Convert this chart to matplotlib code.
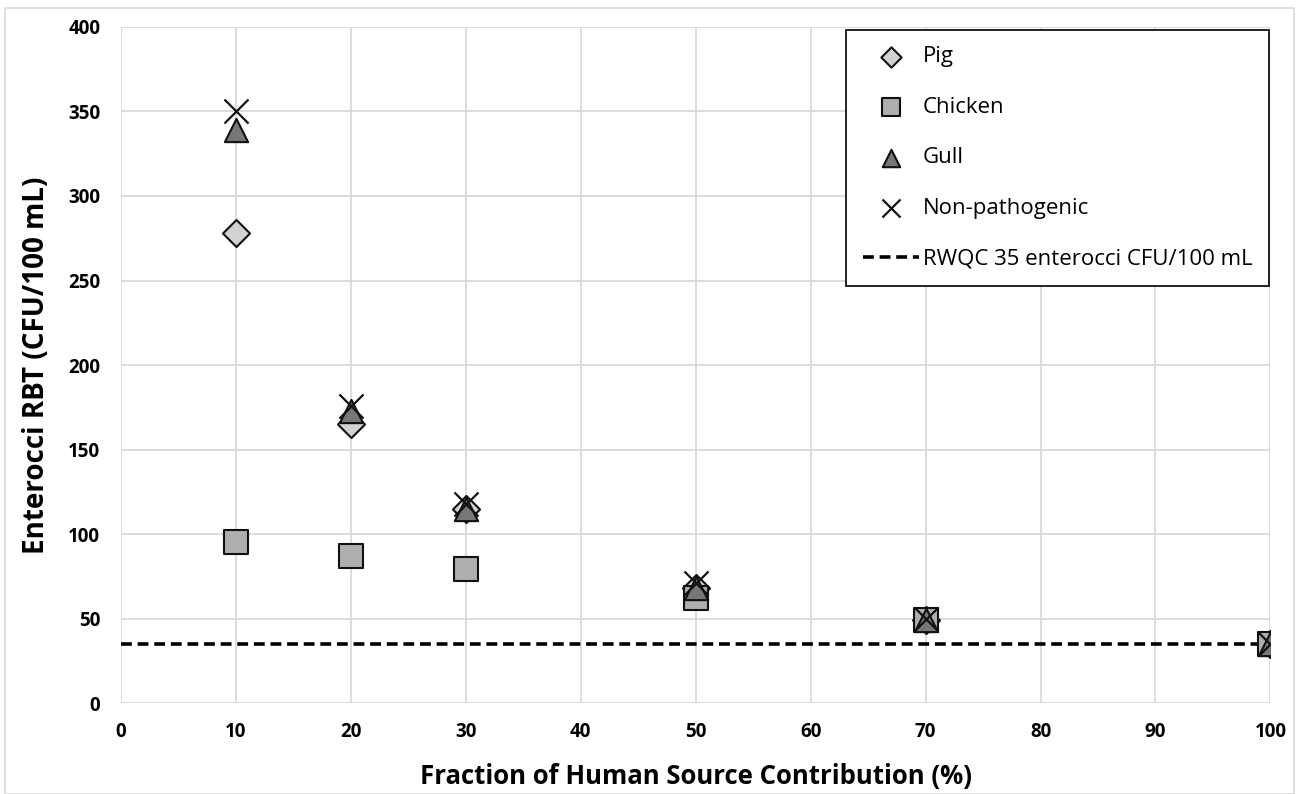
import matplotlib
matplotlib.use("Agg")
import matplotlib.pyplot as plt
from matplotlib.patches import Rectangle

plt.rcParams['font.family'] = ['Open Sans', 'DejaVu Sans']

fraction = [10, 20, 30, 50, 70, 100]
pig = [278, 165, 115, 68, 49, 35]
chicken = [95, 87, 79, 62, 49, 35]
gull = [339, 173, 115, 68, 49, 35]
non_pathogenic = [350, 176, 118, 71, 50, 35]
rwqc = 35
x_ticks = list(range(0, 101, 10))
y_ticks = list(range(0, 401, 50))

fig = plt.figure(figsize=(12.99, 7.94), dpi=100)
ax = fig.add_axes([0.0932, 0.1146, 0.8848, 0.8514])

ax.axhline(rwqc, color='black', linestyle=(0, (3, 1.6)), linewidth=2.6,
           label='RWQC 35 enterocci CFU/100 mL', zorder=2)
ax.scatter(fraction, pig, marker='D', s=190, facecolor='#d2d2d2', edgecolor='#111111',
           linewidth=1.5, label='Pig', zorder=3)
ax.scatter(fraction, chicken, marker='s', s=300, facecolor='#b0adad', edgecolor='#111111',
           linewidth=1.5, label='Chicken', zorder=3)
ax.scatter(fraction, gull, marker='^', s=280, facecolor='#777777', edgecolor='#111111',
           linewidth=1.5, label='Gull', zorder=4)
ax.scatter(fraction, non_pathogenic, marker='x', s=300, color='#111111',
           linewidth=1.6, label='Non-pathogenic', zorder=5)

ax.set_xlim(0, 100)
ax.set_ylim(0, 400)
ax.set_xticks(x_ticks)
ax.set_yticks(y_ticks)
ax.set_xticklabels([str(t) for t in x_ticks], fontsize=13.5, fontweight='bold')
ax.set_yticklabels([str(t) for t in y_ticks], fontsize=13.5, fontweight='bold')
ax.tick_params(length=0, pad=14)
ax.tick_params(axis='y', pad=15)
ax.grid(True, color='#d9d9d9', linewidth=1.3)
ax.set_axisbelow(True)
for s in ax.spines.values():
    s.set_visible(False)

ax.set_xlabel('Fraction of Human Source Contribution (%)', fontsize=18.5, fontweight='bold', labelpad=15)
ax.set_ylabel('Enterocci RBT (CFU/100 mL)', fontsize=20, fontweight='bold', labelpad=12)

handles, labels = ax.get_legend_handles_labels()
order = [1, 2, 3, 4, 0]
leg = ax.legend([handles[i] for i in order], [labels[i] for i in order],
                loc='upper right', bbox_to_anchor=(0.999, 0.996), fontsize=16,
                frameon=True, fancybox=False, edgecolor='#111111', framealpha=1,
                borderpad=0.75, labelspacing=1.33, handlelength=2.5, handletextpad=0.2,
                markerscale=0.75, borderaxespad=0)
leg.get_frame().set_linewidth(1.3)

fig.patches.append(Rectangle((0.004, 0.0), 0.992, 0.99, transform=fig.transFigure,
                             fill=False, edgecolor='#d9d9d9', linewidth=1.2))

fig.savefig('out.png', dpi=100)
